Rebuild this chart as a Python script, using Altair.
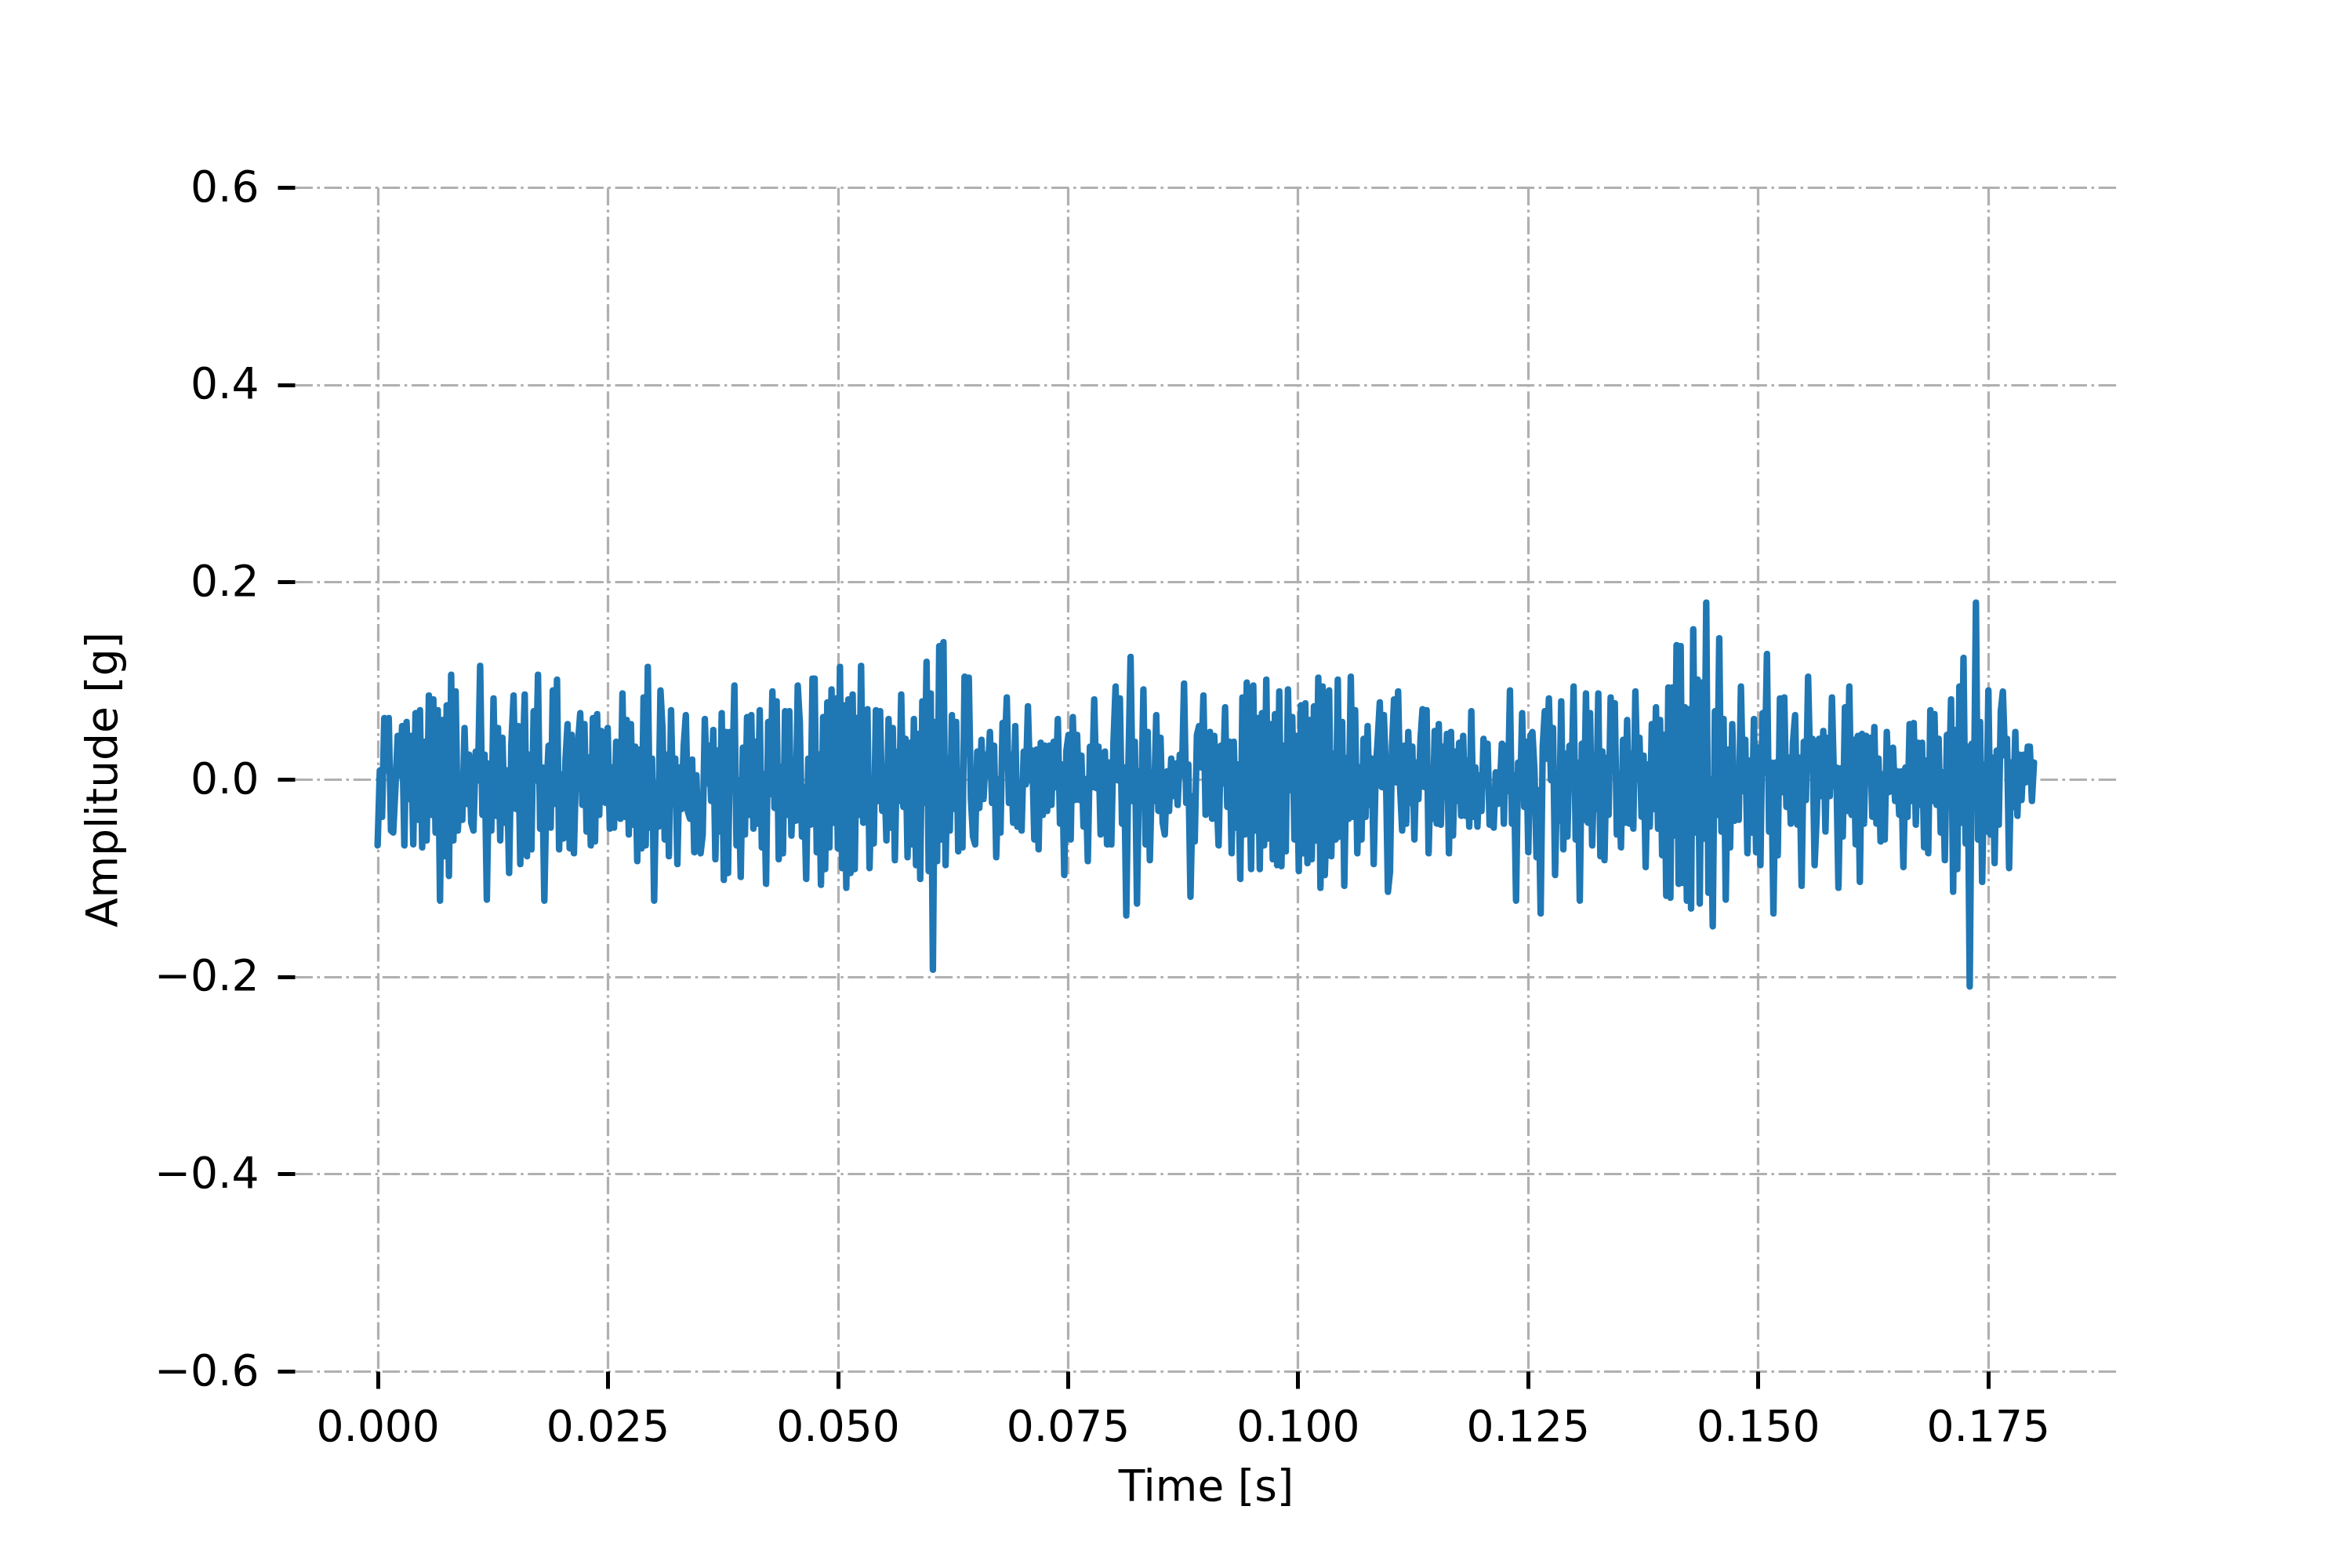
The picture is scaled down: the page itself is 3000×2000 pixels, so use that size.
import altair as alt
import numpy as np
import pandas as pd

# Segment boundaries along the time axis (s) and amplitude readings (g) per segment
BOUNDS = [0.0, 0.0172, 0.0351, 0.0530, 0.0709, 0.0888, 0.1067, 0.1246, 0.1425, 0.1604, 0.18]

seg1 = [-0.067, 0.009, -0.038, 0.062, 0.009, 0.062, -0.052, -0.054, -0.009, 0.044,
        0.004, 0.054, -0.067, 0.058, -0.020, 0.044, -0.066, 0.067, -0.041, 0.070,
        -0.069, 0.038, -0.062, 0.085, -0.036, 0.081, -0.054, 0.070, -0.123, 0.060,
        -0.078, 0.075, -0.098, 0.106, -0.062, 0.089, -0.052, -0.001, -0.041, 0.052,
        -0.025, 0.025, -0.044, -0.052, 0.028, -0.001, 0.115, -0.036, 0.025, -0.122,
        0.016, -0.052, 0.082, -0.037, 0.052, -0.062, 0.042, -0.044, 0.009, -0.095,
        0.036, 0.085, -0.030, 0.054, -0.086, 0.009, 0.086, -0.078, 0.025, -0.071,
        0.069]
seg2 = [-0.001, 0.106, -0.050, 0.012, -0.123, -0.012, 0.034, -0.049, 0.090, -0.025,
        0.101, -0.071, 0.005, -0.060, 0.019, 0.056, -0.070, 0.045, -0.075, 0.009,
        0.038, 0.067, -0.026, 0.056, -0.053, 0.022, -0.067, 0.062, -0.063, 0.066,
        -0.036, 0.049, 0.030, -0.024, 0.052, -0.050, 0.012, -0.049, 0.038, -0.001,
        -0.040, 0.087, -0.038, 0.060, -0.056, 0.056, -0.046, 0.033, -0.083, 0.030,
        -0.070, 0.083, -0.067, 0.114, -0.049, 0.021, -0.123, -0.004, -0.048, 0.090,
        0.050, -0.061, 0.025, -0.078, 0.070, -0.025, 0.021, -0.086, 0.012, -0.030,
        0.034, 0.065, -0.033, -0.040, 0.020, -0.074, 0.004, -0.057]
seg3 = [-0.075, -0.056, 0.061, -0.004, 0.034, -0.022, 0.050, -0.081, 0.029, -0.053,
        0.067, -0.102, 0.048, -0.095, 0.048, -0.005, 0.095, -0.067, -0.001, -0.099,
        0.032, -0.056, 0.063, -0.036, 0.065, -0.050, 0.038, -0.045, 0.070, -0.069,
        0.005, -0.106, 0.058, -0.015, 0.089, -0.029, 0.079, -0.081, 0.012, -0.075,
        0.069, -0.036, 0.069, -0.057, 0.000, -0.042, 0.095, 0.057, -0.058, -0.008,
        -0.101, 0.021, -0.046, 0.102, 0.102, -0.074, 0.025, -0.107, 0.063, -0.091,
        0.078, -0.069, 0.091, -0.044, 0.082, -0.070, 0.114, -0.090, 0.075, -0.110,
        0.081, -0.095, 0.086, -0.091, 0.062, -0.036, 0.115, -0.044]
seg4 = [-0.033, 0.071, -0.090, -0.001, -0.065, 0.070, -0.022, 0.069, -0.032, 0.007,
        -0.062, 0.061, -0.049, 0.052, -0.082, 0.028, -0.022, 0.086, -0.028, 0.041,
        -0.079, 0.037, -0.066, 0.061, -0.087, 0.046, -0.101, 0.079, -0.024, 0.119,
        -0.093, 0.087, -0.193, 0.058, -0.083, 0.135, -0.061, 0.139, -0.087, 0.021,
        -0.052, 0.065, -0.030, 0.058, -0.073, 0.000, -0.069, 0.104, 0.026, 0.103,
        -0.020, -0.058, -0.066, 0.028, -0.029, 0.040, -0.020, 0.025, 0.004, 0.048,
        -0.024, 0.034, -0.079, 0.000, -0.054, 0.057, 0.028, 0.083, -0.024, 0.025,
        -0.044, 0.054, -0.048, -0.007, -0.052, 0.028, -0.005, 0.074]
seg5 = [-0.001, 0.029, -0.061, 0.030, -0.071, 0.037, -0.036, 0.034, -0.032, 0.034,
        -0.026, 0.038, -0.008, 0.061, -0.045, 0.015, -0.097, 0.029, 0.045, -0.061,
        0.063, -0.021, 0.045, -0.021, 0.024, -0.048, 0.000, -0.083, 0.033, -0.008,
        0.081, -0.009, 0.033, -0.056, -0.048, 0.028, -0.066, 0.017, -0.066, 0.037,
        0.094, -0.001, 0.082, -0.045, 0.012, -0.138, 0.017, 0.124, -0.022, 0.038,
        -0.126, 0.008, -0.028, 0.091, -0.066, 0.048, -0.082, 0.007, -0.022, 0.065,
        -0.032, 0.042, -0.044, -0.056, 0.008, -0.032, 0.021, -0.017, 0.016, -0.026,
        0.025, 0.004, 0.097, -0.024, 0.015, -0.119, -0.017]
seg6 = [-0.063, 0.045, 0.054, 0.012, 0.085, -0.036, -0.001, 0.048, -0.040, 0.044,
        -0.011, -0.067, 0.034, -0.004, 0.073, -0.028, 0.038, -0.075, 0.038, -0.049,
        0.015, -0.101, 0.083, -0.056, 0.098, 0.025, -0.091, 0.095, -0.052, 0.062,
        -0.091, 0.067, -0.067, 0.101, -0.060, 0.056, -0.081, 0.066, -0.087, 0.089,
        -0.088, 0.034, -0.073, 0.091, -0.011, 0.063, -0.061, 0.044, -0.093, 0.075,
        -0.075, 0.077, -0.085, 0.060, -0.081, 0.074, -0.062, 0.103, -0.110, 0.094,
        -0.097, -0.030, 0.090, -0.078, 0.026, -0.061, 0.101, -0.058, 0.058, -0.108,
        0.022, -0.040, 0.104, -0.038, 0.070, -0.075]
seg7 = [0.012, -0.061, 0.041, -0.038, 0.054, -0.026, 0.021, -0.086, 0.009, 0.042,
        0.078, -0.008, 0.065, 0.009, -0.114, -0.094, 0.033, 0.081, -0.003, 0.089,
        -0.009, -0.052, 0.034, -0.045, 0.048, -0.024, 0.033, -0.061, 0.017, -0.020,
        0.040, 0.071, -0.008, 0.070, -0.075, 0.007, -0.040, 0.049, -0.045, 0.056,
        -0.046, 0.033, -0.017, 0.046, -0.075, 0.048, -0.057, 0.028, -0.022, 0.037,
        -0.037, 0.044, -0.037, 0.019, -0.048, 0.069, -0.038, 0.012, -0.048, 0.004,
        -0.032, 0.041, 0.015, 0.036, -0.046, -0.011, -0.049, 0.007, -0.025, -0.012,
        0.036, -0.045, 0.034, -0.012, 0.090, -0.045, 0.004, -0.123, 0.017, -0.017,
        0.067]
seg8 = [-0.028, 0.038, -0.074, 0.044, 0.048, 0.009, -0.079, -0.011, -0.136, 0.033,
        0.069, 0.021, 0.082, -0.001, 0.052, -0.097, 0.001, -0.042, 0.079, -0.071,
        0.026, -0.058, 0.034, -0.001, 0.094, -0.061, 0.017, -0.123, 0.036, -0.041,
        0.087, -0.044, 0.067, -0.067, 0.007, -0.030, 0.087, -0.078, 0.028, -0.082,
        0.022, -0.036, 0.083, 0.015, 0.077, -0.056, 0.005, -0.069, 0.040, -0.044,
        0.060, -0.045, 0.026, -0.050, 0.089, 0.000, 0.042, -0.038, 0.024, -0.089,
        0.015, -0.048, 0.056, -0.030, 0.073, -0.050, 0.060, -0.077, 0.045, -0.118,
        0.093, -0.120, 0.093, -0.057, 0.136, -0.106, 0.135, -0.105, 0.073, -0.123]
seg9 = [0.071, -0.131, 0.152, -0.054, 0.101, -0.126, 0.098, -0.060, 0.179, -0.115,
        0.000, -0.149, 0.069, -0.036, 0.143, -0.053, 0.061, -0.122, 0.030, -0.069,
        0.056, -0.042, 0.009, -0.041, 0.094, -0.012, 0.040, -0.075, 0.019, -0.054,
        0.061, -0.074, 0.032, -0.087, 0.067, 0.007, 0.127, -0.053, 0.017, -0.136,
        0.017, -0.077, 0.082, -0.013, 0.083, -0.028, 0.022, -0.045, 0.037, 0.065,
        -0.046, 0.022, -0.108, 0.038, -0.021, 0.104, 0.009, 0.041, -0.087, -0.036,
        0.041, -0.017, 0.049, -0.053, 0.042, -0.017, 0.083, -0.007, 0.012, -0.110,
        0.011, -0.058, 0.073, -0.032, 0.094, -0.036]
seg10 = [0.040, -0.066, 0.044, -0.104, 0.046, -0.045, 0.044, -0.001, 0.042, -0.038,
         0.053, -0.045, 0.021, -0.063, 0.005, -0.061, 0.048, -0.013, 0.024, 0.032,
         -0.022, 0.008, -0.036, 0.008, -0.089, 0.012, -0.038, 0.056, -0.022, 0.057,
         -0.046, 0.037, -0.026, 0.037, -0.069, 0.019, -0.075, 0.070, -0.022, 0.066,
         -0.026, 0.041, -0.054, 0.007, -0.082, 0.045, -0.007, 0.081, -0.114, 0.050,
         -0.091, 0.094, -0.044, 0.123, -0.065, 0.033, -0.210, 0.036, -0.028, 0.179,
         -0.061, 0.058, -0.104, 0.015, -0.053, 0.090, -0.056, 0.022, -0.085, 0.029,
         -0.046, 0.069, 0.089, 0.024, 0.041, -0.090, 0.017, -0.028, 0.048, -0.037,
         0.025, -0.021, 0.025, -0.003, 0.033, 0.033, -0.022, 0.017]

SEGMENTS = [seg1, seg2, seg3, seg4, seg5, seg6, seg7, seg8, seg9, seg10]

X_TICKS = [0.0, 0.025, 0.05, 0.075, 0.1, 0.125, 0.15, 0.175]
Y_TICKS = [-0.6, -0.4, -0.2, 0.0, 0.2, 0.4, 0.6]

# Build the table: each segment's samples evenly spread over its time span
times, amps = [], []
for k, seg in enumerate(SEGMENTS):
    n = len(seg)
    if k < len(SEGMENTS) - 1:
        t = BOUNDS[k] + (BOUNDS[k + 1] - BOUNDS[k]) * np.arange(n) / n
    else:
        t = np.linspace(BOUNDS[k], BOUNDS[k + 1], n)
    times.extend(t.tolist())
    amps.extend(seg)

df = pd.DataFrame({"t": times, "a": amps})

FONT = "DejaVu Sans"
FS = 55

chart = alt.Chart(df).mark_line(
    color="#1f77b4", strokeWidth=8.3, strokeJoin="round", strokeCap="round", clip=True
).encode(
    x=alt.X(
        "t:Q",
        scale=alt.Scale(domain=[-0.009, 0.189], nice=False, zero=False),
        axis=alt.Axis(values=X_TICKS, format=".3f", title="Time [s]",
                      titlePadding=22, labelPadding=23),
    ),
    y=alt.Y(
        "a:Q",
        scale=alt.Scale(domain=[-0.6, 0.6], nice=False, zero=False),
        axis=alt.Axis(values=Y_TICKS, format=".1f", title="Amplitude [g]",
                      labelExpr="replace(datum.label, '-', '\u2212')",
                      titlePadding=36, labelPadding=24),
    ),
).properties(
    width=2324,
    height=1510,
    autosize=alt.AutoSizeParams(type="none"),
    padding={"left": 368, "top": 231, "right": 292, "bottom": 240},
    background="white",
).configure_view(
    stroke=None
).configure_axis(
    domain=False,
    ticks=True,
    tickColor="black",
    tickSize=22,
    tickWidth=5,
    labelFont=FONT,
    labelFontSize=FS,
    labelColor="black",
    labelFlush=False,
    labelOverlap=False,
    titleFont=FONT,
    titleFontSize=FS,
    titleFontWeight="normal",
    titleColor="black",
    grid=True,
    gridColor="#b0b0b0",
    gridWidth=3.2,
    gridDash=[22.4, 5.6, 3.5, 5.6],
)

chart.save("out.html", embed_options={"renderer": "svg", "actions": False})
